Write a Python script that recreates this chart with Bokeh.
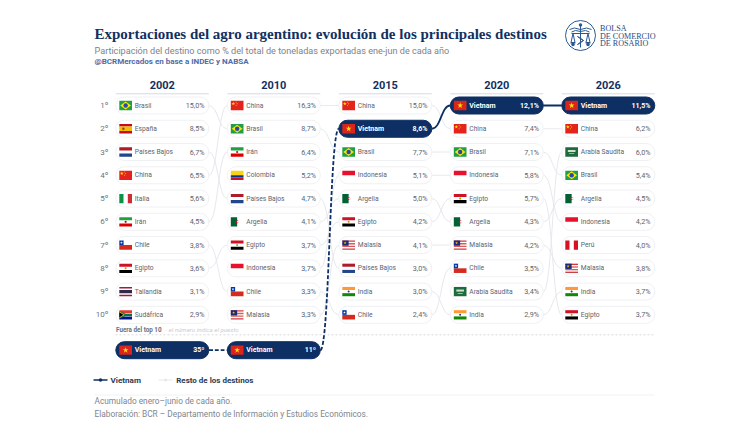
from bokeh.plotting import figure
from bokeh.embed import file_html
from bokeh.resources import INLINE
from bokeh.models import Range1d
from bokeh.core.properties import value

years = ["2002", "2010", "2015", "2020", "2026"]
destinos_2002 = ["Brasil", "España", "Países Bajos", "China", "Italia", "Irán", "Chile", "Egipto", "Tailandia", "Sudáfrica"]
valores_2002 = ["15,0%", "8,5%", "6,7%", "6,5%", "5,6%", "4,5%", "3,8%", "3,6%", "3,1%", "2,9%"]
destinos_2010 = ["China", "Brasil", "Irán", "Colombia", "Países Bajos", "Argelia", "Egipto", "Indonesia", "Chile", "Malasia"]
valores_2010 = ["16,3%", "8,7%", "6,4%", "5,2%", "4,7%", "4,1%", "3,7%", "3,7%", "3,3%", "3,3%"]
destinos_2015 = ["China", "Vietnam", "Brasil", "Indonesia", "Argelia", "Egipto", "Malasia", "Países Bajos", "India", "Chile"]
valores_2015 = ["15,0%", "8,6%", "7,7%", "5,1%", "5,0%", "4,2%", "4,1%", "3,0%", "3,0%", "2,4%"]
destinos_2020 = ["Vietnam", "China", "Brasil", "Indonesia", "Egipto", "Argelia", "Malasia", "Chile", "Arabia Saudita", "India"]
valores_2020 = ["12,1%", "7,4%", "7,1%", "5,8%", "5,7%", "4,3%", "4,2%", "3,5%", "3,4%", "2,9%"]
destinos_2026 = ["Vietnam", "China", "Arabia Saudita", "Brasil", "Argelia", "Indonesia", "Perú", "Malasia", "India", "Egipto"]
valores_2026 = ["11,5%", "6,2%", "6,0%", "5,4%", "4,5%", "4,2%", "4,0%", "3,8%", "3,7%", "3,7%"]
fuera_top10 = {"2002": "35º", "2010": "11º"}
rank_labels = ["1º", "2º", "3º", "4º", "5º", "6º", "7º", "8º", "9º", "10º"]

destinos = [destinos_2002, destinos_2010, destinos_2015, destinos_2020, destinos_2026]
valores = [valores_2002, valores_2010, valores_2015, valores_2020, valores_2026]

# ---- scales: x in column units, y in rank units
COL0, COLW, ROW0, ROWH = 161.8, 111.5, 105.0, 23.26
OUT_RANK = 1 + (349.7 - ROW0) / ROWH
def X(px): return (px - COL0) / COLW
def Y(py): return 1 + (py - ROW0) / ROWH
DX, DY = 1 / COLW, 1 / ROWH
PILL_W, PILL_H = 93 * DX, 17 * DY

NAVY, INK, GRAY = "#0d2f63", "#12305f", "#6f7682"
LINK, EDGE = "#e6e8ec", "#f0f1f4"
SANS, SERIF = value("Roboto"), value("Liberation Serif")

p = figure(width=725, height=426, output_backend="svg", toolbar_location=None,
           x_range=Range1d(X(0), X(725)), y_range=Range1d(Y(426), Y(0)),
           min_border=0, outline_line_color=None, background_fill_color="white",
           border_fill_color="white")
p.axis.visible = False
p.grid.visible = False


def txt(px, py, s, size, color, font=SANS, style="normal", align="left"):
    p.text(x=[X(px)], y=[Y(py)], text=[s], text_font=font, text_font_size=f"{size}px",
           text_font_style=style, text_color=color, text_align=align, text_baseline="middle")


# ---- header / footer texts
txt(94, 33.3, "Exportaciones del agro argentino: evolución de los principales destinos", 15, INK, SERIF, "bold")
txt(94, 50, "Participación del destino como % del total de toneladas exportadas ene-jun de cada año", 9.1, "#7d838c")
txt(94, 61, "@BCRMercados en base a INDEC y NABSA", 8, "#4d6ca8", style="bold")
for s, py in zip(["BOLSA", "DE COMERCIO", "DE ROSARIO"], [28.3, 35.6, 42.8]):
    txt(599.5, py, s, 8.1, "#1f4d86", SERIF)

# ---- logo
LOGO = "#2a5a92"
p.scatter(x=[X(580)], y=[Y(35)], size=30, marker="circle", fill_color="white", line_color=LOGO, line_width=1)
lx = [[569, 574, 580], [591, 586, 580], [571, 575, 580], [589, 585, 580], [580, 580],
      [571, 589], [572.5, 570.5, 574.5, 572.5], [587.5, 585.5, 589.5, 587.5], [570, 575], [585, 590],
      [577, 580, 583, 580, 577], [577, 580, 583, 580, 577]]
ly = [[29, 27.5, 29], [29, 27.5, 29], [31.5, 30, 31], [31.5, 30, 31], [24, 47],
      [33, 33], [33, 42, 42, 33], [33, 42, 42, 33], [42.5, 42.5], [42.5, 42.5],
      [36, 38, 40, 42, 44], [44, 42, 40, 38, 36]]
p.multi_line(xs=[[X(v) for v in a] for a in lx], ys=[[Y(v) for v in a] for a in ly], line_color=LOGO, line_width=1)
p.scatter(x=[X(572.5), X(587.5), X(580)], y=[Y(44), Y(44), Y(24.5)], size=3.5, marker="circle", fill_color=LOGO, line_color=None)

# ---- column heads and rank labels
for i, y in enumerate(years):
    txt(COL0 + i * COLW, 84, y, 11, INK, style="bold", align="center")
p.segment(x0=[i - PILL_W / 2 for i in range(5)], x1=[i + PILL_W / 2 for i in range(5)],
          y0=[Y(93.3)] * 5, y1=[Y(93.3)] * 5, line_color="#d3dbe5", line_width=1)
p.text(x=[X(108)] * 10, y=list(range(1, 11)), text=rank_labels, text_font=SANS, text_font_size="8px",
       text_color="#6c727c", text_align="right", text_baseline="middle")

# ---- links
l = {k: [] for k in "x0 y0 x1 y1 cx0 cy0 cx1 cy1".split()}
def add_link(store, c, r0, r1):
    a, b = c + PILL_W / 2, c + 1 - PILL_W / 2
    m = (a + b) / 2
    for k, v in zip("x0 y0 x1 y1 cx0 cy0 cx1 cy1".split(), [a, r0, b, r1, m, r0, m, r1]):
        store[k].append(v)
for c in range(4):
    for r0, name in enumerate(destinos[c], 1):
        if name != "Vietnam" and name in destinos[c + 1]:
            add_link(l, c, r0, destinos[c + 1].index(name) + 1)
p.bezier(line_color=LINK, line_width=1, **l)

def viet_rank(c):
    return destinos[c].index("Vietnam") + 1 if "Vietnam" in destinos[c] else OUT_RANK
dashed = {k: [] for k in l}
solid = {k: [] for k in l}
for c in range(4):
    add_link(dashed if c < 2 else solid, c, viet_rank(c), viet_rank(c + 1))
p.bezier(line_color=NAVY, line_width=1.8, line_dash="4 2", **dashed)
p.bezier(line_color=NAVY, line_width=1.8, **solid)

# ---- flags: parts in unit coordinates of each flag
FLAGS = {
    "Brasil": [("r", 0, 0, 1, 1, "#229e45"), ("p", [.08, .5, .92, .5], [.5, .06, .5, .94], "#f8e509"), ("c", .5, .5, 4.4, "#2b49a3")],
    "España": [("r", 0, 0, 1, .25, "#c60b1e"), ("r", 0, .25, 1, .75, "#f1bf00"), ("r", 0, .75, 1, 1, "#c60b1e"), ("c", .32, .5, 2.5, "#ad3a1e")],
    "Países Bajos": [("r", 0, 0, 1, .33, "#ae1c28"), ("r", 0, .67, 1, 1, "#21468b")],
    "China": [("r", 0, 0, 1, 1, "#e3231c"), ("s", .2, .3, 4, "#ffde00"), ("s", .42, .14, 1.6, "#ffde00"), ("s", .5, .32, 1.6, "#ffde00"), ("s", .42, .5, 1.6, "#ffde00")],
    "Italia": [("r", 0, 0, .33, 1, "#0a9246"), ("r", .67, 0, 1, 1, "#ce2b37")],
    "Irán": [("r", 0, 0, 1, .33, "#239f40"), ("r", 0, .67, 1, 1, "#da0000"), ("c", .5, .5, 2.2, "#da0000")],
    "Chile": [("r", 0, .5, 1, 1, "#d52b1e"), ("r", 0, 0, .34, .5, "#0039a6"), ("s", .17, .25, 2.8, "#ffffff")],
    "Egipto": [("r", 0, 0, 1, .33, "#ce1126"), ("r", 0, .67, 1, 1, "#000000"), ("c", .5, .5, 2, "#c09300")],
    "Tailandia": [("r", 0, 0, 1, .17, "#a51931"), ("r", 0, .33, 1, .67, "#2d2a4a"), ("r", 0, .83, 1, 1, "#a51931")],
    "Sudáfrica": [("r", 0, 0, 1, .33, "#e03c31"), ("r", 0, .67, 1, 1, "#001489"),
                  ("p", [0, .5, 1, 1, .5, 0], [.1, .38, .38, .62, .62, .9], "#007749"),
                  ("p", [0, .42, 0], [.12, .5, .88], "#ffb81c"), ("p", [0, .32, 0], [.22, .5, .78], "#000000")],
    "Colombia": [("r", 0, 0, 1, .5, "#fcd116"), ("r", 0, .5, 1, .75, "#003893"), ("r", 0, .75, 1, 1, "#ce1126")],
    "Argelia": [("r", 0, 0, .5, 1, "#006233"), ("c", .52, .5, 3, "#d21034"), ("c", .58, .5, 2.2, "#ffffff")],
    "Indonesia": [("r", 0, 0, 1, .5, "#e8112d")],
    "Malasia": [("r", 0, 0, 1, .143, "#cc3b3b"), ("r", 0, .286, 1, .429, "#d95a5a"), ("r", 0, .571, 1, .714, "#d95a5a"), ("r", 0, .857, 1, 1, "#cc3b3b"),
                ("r", 0, 0, .5, .57, "#1c2a7a"), ("s", .22, .28, 3, "#ffcc00")],
    "Vietnam": [("r", 0, 0, 1, 1, "#da251d"), ("s", .5, .5, 6, "#ffe000")],
    "India": [("r", 0, 0, 1, .33, "#ff9933"), ("r", 0, .67, 1, 1, "#138808"), ("c", .5, .5, 2, "#2a3a80")],
    "Arabia Saudita": [("r", 0, 0, 1, 1, "#1d6b3b"), ("r", .2, .28, .8, .5, "#cfe0d4"), ("r", .3, .66, .7, .72, "#ffffff")],
    "Perú": [("r", 0, 0, .33, 1, "#d91023"), ("r", .67, 0, 1, 1, "#d91023")],
}
FW, FH = 12.7 * DX, 9.3 * DY


def draw_flag(name, left, rank):
    ox, oy = left, rank - FH / 2
    for part in FLAGS[name]:
        kind = part[0]
        if kind == "r":
            p.quad(left=[ox + part[1] * FW], right=[ox + part[3] * FW], top=[oy + part[2] * FH], bottom=[oy + part[4] * FH],
                   fill_color=part[5], line_color=None)
        elif kind == "p":
            p.patch(x=[ox + v * FW for v in part[1]], y=[oy + v * FH for v in part[2]], fill_color=part[3], line_color=None)
        elif kind == "c":
            p.scatter(x=[ox + part[1] * FW], y=[oy + part[2] * FH], size=part[3], marker="circle", fill_color=part[4], line_color=None)
        elif kind == "s":
            p.scatter(x=[ox + part[1] * FW], y=[oy + part[2] * FH], size=part[3], marker="star", fill_color=part[4], line_color=None)


# ---- pills
def pill(c, rank, name, val):
    hi = name == "Vietnam"
    left = c - PILL_W / 2
    p.quad(left=[left], right=[left + PILL_W], top=[rank - PILL_H / 2], bottom=[rank + PILL_H / 2], border_radius=9,
           fill_color=NAVY if hi else "white", line_color=NAVY if hi else EDGE, line_width=1)
    draw_flag(name, left + 3.5 * DX, rank)
    tc = "white" if hi else "#5d6470"
    st = "bold" if hi else "normal"
    name_size = "7px" if hi else "6.7px"
    val_size = "7px" if hi else "7.2px"
    p.text(x=[left + 19 * DX], y=[rank], text=[name], text_font=SANS, text_font_size=name_size, text_color=tc,
           text_font_style=st, text_baseline="middle")
    p.text(x=[left + PILL_W - 4.3 * DX], y=[rank], text=[val], text_font=SANS, text_font_size=val_size, text_color=tc,
           text_font_style=st, text_align="right", text_baseline="middle")

for c, (names, vals) in enumerate(zip(destinos, valores)):
    for r, (n, v) in enumerate(zip(names, vals), 1):
        pill(c, r, n, v)
for c, y in enumerate(years):
    if y in fuera_top10:
        pill(c, OUT_RANK, "Vietnam", fuera_top10[y])

# ---- out-of-top-10 note
txt(115.5, 329, "Fuera del top 10", 6.3, "#6c727c", style="bold")
txt(165, 329, "· el número indica el puesto", 6.2, "#c9cdd3", style="italic")
p.segment(x0=[X(115)], x1=[X(654)], y0=[Y(334.3)], y1=[Y(334.3)], line_color="#d8dbe0", line_width=1, line_dash="2 2")

# ---- legend
p.segment(x0=[X(93)], x1=[X(107)], y0=[Y(379.5)], y1=[Y(379.5)], line_color=NAVY, line_width=1.7)
p.scatter(x=[X(100)], y=[Y(379.5)], size=3.5, marker="circle", fill_color=NAVY, line_color=None)
txt(110, 379.5, "Vietnam", 8.1, "#2a3a55", style="bold")
p.segment(x0=[X(158)], x1=[X(172)], y0=[Y(379.5)], y1=[Y(379.5)], line_color=LINK, line_width=1)
p.scatter(x=[X(165)], y=[Y(379.5)], size=3, marker="circle", fill_color=LINK, line_color=None)
txt(175.7, 379.5, "Resto de los destinos", 8, "#2a3a55", style="bold")

# ---- footer
p.segment(x0=[X(94)], x1=[X(654)], y0=[Y(394.5)], y1=[Y(394.5)], line_color="#f1f2f4", line_width=1)
txt(94, 400.5, "Acumulado enero–junio de cada año.", 8.3, "#808690")
txt(94, 413.7, "Elaboración: BCR – Departamento de Información y Estudios Económicos.", 8.3, "#808690")

open("out.html", "w").write(file_html(p, INLINE))
